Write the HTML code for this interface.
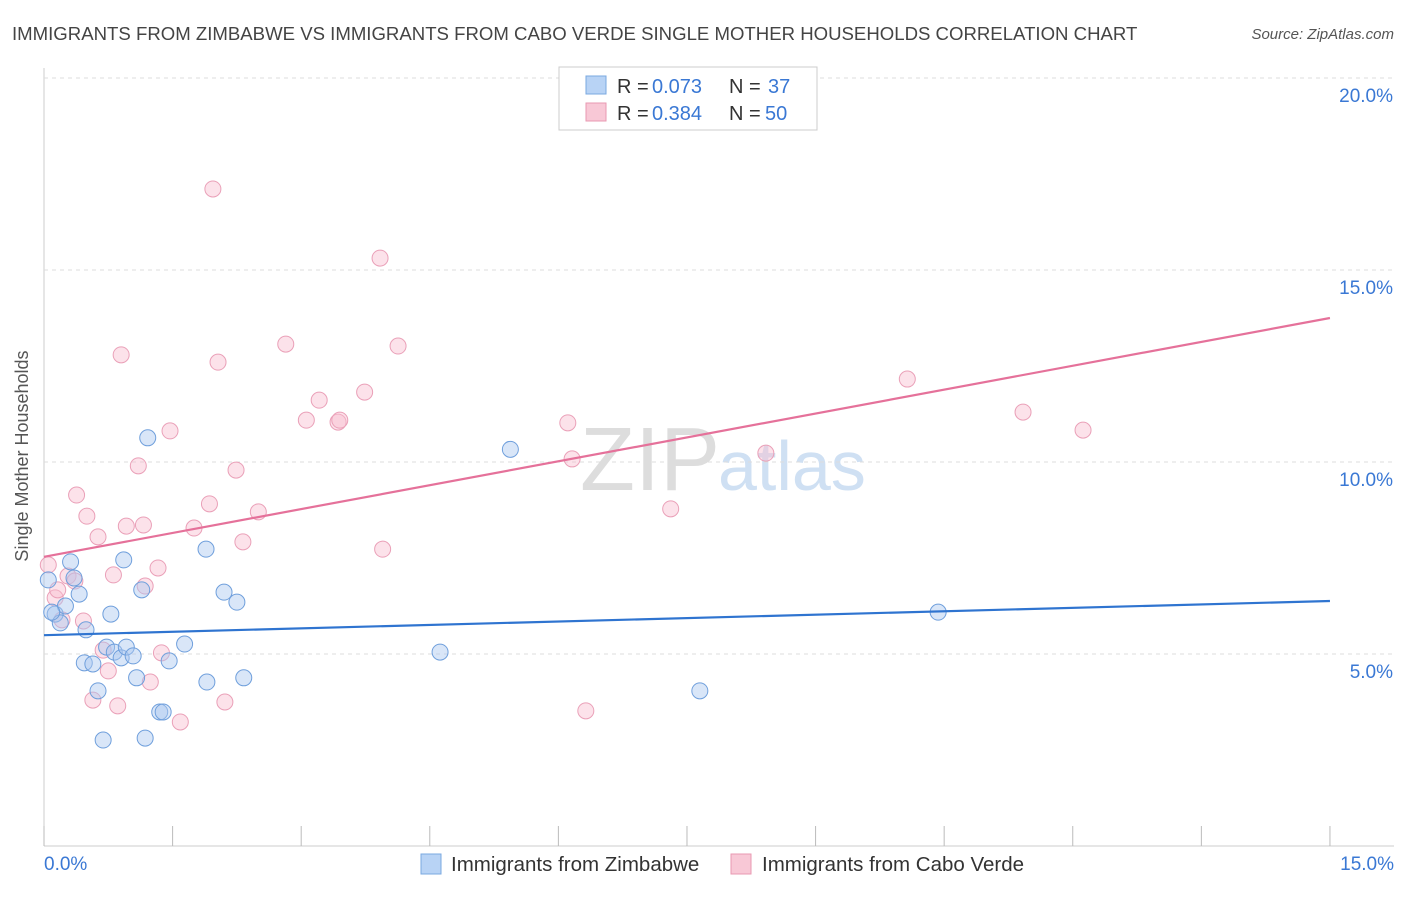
<!DOCTYPE html>
<html><head><meta charset="utf-8"><style>
body{margin:0;background:#fff;font-family:"Liberation Sans",sans-serif;}
svg text{font-family:"Liberation Sans",sans-serif;}
</style></head><body>
<svg id="c" width="1406" height="892">
<text x="12" y="40" font-size="18.6" fill="#444">IMMIGRANTS FROM ZIMBABWE VS IMMIGRANTS FROM CABO VERDE SINGLE MOTHER HOUSEHOLDS CORRELATION CHART</text>
<text x="1394" y="39" font-size="15" fill="#555" font-style="italic" text-anchor="end">Source: ZipAtlas.com</text>
<text x="28" y="456" font-size="18" fill="#555" text-anchor="middle" transform="rotate(-90 28 456)">Single Mother Households</text>
<text x="720" y="490" font-size="90" fill="#ddd" text-anchor="end" font-family="Liberation Serif">ZIP</text>
<text x="718" y="490" font-size="70" fill="#cfe0f3">atlas</text>
<g id="grid"></g><g id="pts"></g><g id="lines"></g>
<g>
<rect x="559" y="67" width="258" height="63" fill="#fff" stroke="#ccc"/>
<rect x="586" y="76" width="20" height="18" fill="#b8d3f5" stroke="#7aa8e0"/>
<rect x="586" y="103" width="20" height="18" fill="#f8c8d6" stroke="#e899b2"/>
<g font-size="20">
<text x="617" y="93" fill="#333">R =</text><text x="652" y="93" fill="#3a78d4">0.073</text>
<text x="729" y="93" fill="#333">N =</text><text x="768" y="93" fill="#3a78d4">37</text></g>
<g font-size="20">
<text x="617" y="120" fill="#333">R =</text><text x="652" y="120" fill="#3a78d4">0.384</text>
<text x="729" y="120" fill="#333">N =</text><text x="765" y="120" fill="#3a78d4">50</text></g>
</g>
<g>
<rect x="421" y="854" width="20" height="20" fill="#b8d3f5" stroke="#7aa8e0"/>
<text x="451" y="871" font-size="20.5" fill="#333">Immigrants from Zimbabwe</text>
<rect x="731" y="854" width="20" height="20" fill="#f8c8d6" stroke="#e899b2"/>
<text x="762" y="871" font-size="20.5" fill="#333">Immigrants from Cabo Verde</text>
</g>
</svg>
<script>
const yTicks=[5,10,15,20];
const xTickLabels=["0.0%","15.0%"];
const blueX=[0.13,0.19,0.25,0.31,0.35,0.41,0.49,0.47,0.57,0.63,0.69,0.78,0.73,0.82,0.90,0.93,0.96,1.04,1.08,1.14,1.18,1.21,1.35,1.39,1.46,1.64,1.89,1.90,2.10,2.25,2.33,4.62,5.44,7.65,10.43,0.05,0.09];
const blueY=[6.04,5.81,6.25,7.40,6.98,6.56,5.63,4.77,4.74,4.04,2.76,6.04,5.18,5.05,4.90,7.45,5.18,4.95,4.38,6.67,2.81,10.63,3.49,3.49,4.82,5.26,7.73,4.27,6.61,6.35,4.38,5.05,10.33,4.04,6.09,6.93,6.09];
const pinkX=[0.05,0.13,0.16,0.21,0.28,0.36,0.38,0.46,0.50,0.57,0.63,0.69,0.75,0.81,0.86,0.90,0.96,1.10,1.16,1.18,1.24,1.33,1.37,1.47,1.59,1.75,1.93,1.97,2.03,2.11,2.24,2.32,2.50,2.82,3.06,3.21,3.43,3.45,3.74,3.92,3.95,4.13,6.11,6.16,6.32,7.31,8.42,10.07,11.42,12.12];
const pinkY=[7.32,6.46,6.67,5.89,7.03,6.90,9.14,5.86,8.59,3.80,8.05,5.10,4.56,7.06,3.65,12.79,8.33,9.90,8.36,6.77,4.27,7.24,5.03,10.81,3.23,8.28,8.91,17.11,12.60,3.75,9.79,7.92,8.70,13.07,11.09,11.61,11.04,11.09,11.82,15.31,7.73,13.02,11.02,10.08,3.52,8.78,10.23,12.16,11.30,10.83];
const blueLine=[5.49,6.38];
const pinkLine=[7.53,13.75];
const X=v=>44+v*85.73, Y=v=>846-v*38.4;
const NS="http://www.w3.org/2000/svg";
function mk(t,a,p){const e=document.createElementNS(NS,t);for(const k in a)e.setAttribute(k,a[k]);p.appendChild(e);return e;}
const g=document.getElementById('grid');
mk('line',{x1:44,y1:68,x2:44,y2:846,stroke:'#ccc'},g);
mk('line',{x1:44,y1:846,x2:1394,y2:846,stroke:'#ccc'},g);
yTicks.forEach(t=>{
 const gl=mk('line',{x1:44,y1:Y(t),x2:1394,y2:Y(t),stroke:'#ddd','stroke-dasharray':'4,4'},g);
 
 
 const tx=mk('text',{x:1393,y:Y(t)+24,'font-size':19,fill:'#3a78d4','text-anchor':'end'},g);tx.textContent=t.toFixed(1)+'%';
 
 
});
for(let i=0;i<=10;i++){const tk=mk('line',{x1:X(i*1.5),y1:826,x2:X(i*1.5),y2:846,stroke:'#bbb'},g);
 
 }
[[0,'start',44],[1,'end',1394]].forEach(([i,a,x])=>{const t=mk('text',{x:x,y:870,'font-size':19,fill:'#3a78d4','text-anchor':a},g);t.textContent=xTickLabels[i];
 
 });
const p=document.getElementById('pts');
pinkX.forEach((x,i)=>{const c=mk('circle',{cx:X(x),cy:Y(pinkY[i]),r:8,fill:'rgba(248,190,208,0.45)',stroke:'#eaa0b8','stroke-width':1},p);
 
 });
blueX.forEach((x,i)=>{const c=mk('circle',{cx:X(x),cy:Y(blueY[i]),r:8,fill:'rgba(170,200,240,0.45)',stroke:'#6f9fdc','stroke-width':1},p);
 
 });
const l=document.getElementById('lines');
const bl=mk('line',{x1:X(0),y1:Y(blueLine[0]),x2:X(15),y2:Y(blueLine[1]),stroke:'#2f74d0','stroke-width':2.2},l);


const pl=mk('line',{x1:X(0),y1:Y(pinkLine[0]),x2:X(15),y2:Y(pinkLine[1]),stroke:'#e5719a','stroke-width':2.2},l);


</script>
</body></html>
